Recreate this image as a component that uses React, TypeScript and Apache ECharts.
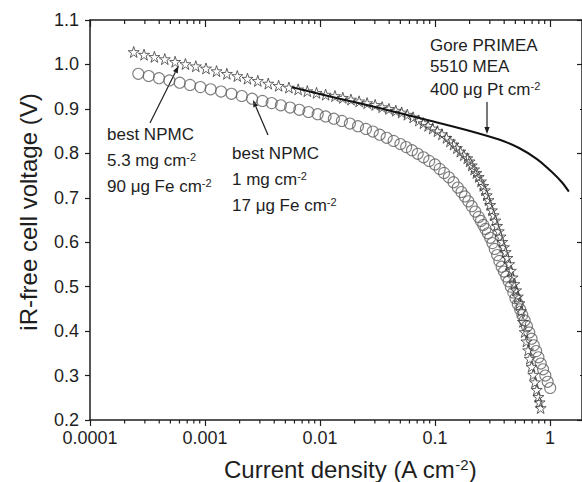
import React, { useEffect, useRef } from "react";
import * as echarts from "echarts";

// ---- data ----
const xTickLabels = ["0.0001", "0.001", "0.01", "0.1", "1"];
const xMinorTicks = [
  0.0002, 0.0003, 0.0004, 0.0005, 0.0006, 0.0007, 0.0008, 0.0009,
  0.002, 0.003, 0.004, 0.005, 0.006, 0.007, 0.008, 0.009,
  0.02, 0.03, 0.04, 0.05, 0.06, 0.07, 0.08, 0.09,
  0.2, 0.3, 0.4, 0.5, 0.6, 0.7, 0.8, 0.9,
];

// best NPMC, 5.3 mg cm-2 (stars)
const starsJ = [
  2.4e-4, 2.95e-4, 3.63e-4, 4.47e-4, 5.5e-4, 6.76e-4, 8.32e-4, 1.02e-3, 1.26e-3, 1.55e-3,
  1.91e-3, 2.34e-3, 2.88e-3, 3.55e-3, 4.37e-3, 5.37e-3, 6.46e-3, 7.76e-3, 9.33e-3, 0.0112,
  0.0135, 0.0158, 0.0186, 0.0219, 0.0257, 0.0302, 0.0347, 0.0398, 0.0457, 0.0513,
  0.0575, 0.0646, 0.0724, 0.0794, 0.0871, 0.0955, 0.105, 0.115, 0.126, 0.135,
  0.145, 0.155, 0.166, 0.178, 0.191, 0.2, 0.209, 0.219, 0.229, 0.24,
  0.251, 0.263, 0.272, 0.282, 0.292, 0.302, 0.313, 0.324, 0.335, 0.347,
  0.359, 0.372, 0.385, 0.398, 0.412, 0.427, 0.442, 0.457, 0.473, 0.49,
  0.507, 0.525, 0.543, 0.562, 0.582, 0.603, 0.624, 0.646, 0.668, 0.692,
  0.716, 0.741, 0.767, 0.794, 0.813, 0.83,
];
const starsV = [
  1.028, 1.022, 1.017, 1.012, 1.006, 1.001, 0.996, 0.991, 0.985, 0.979,
  0.974, 0.968, 0.963, 0.957, 0.952, 0.948, 0.944, 0.94, 0.936, 0.932,
  0.929, 0.925, 0.921, 0.917, 0.913, 0.909, 0.904, 0.9, 0.896, 0.892,
  0.887, 0.881, 0.874, 0.868, 0.862, 0.856, 0.85, 0.843, 0.835, 0.827,
  0.82, 0.812, 0.804, 0.796, 0.789, 0.782, 0.773, 0.764, 0.756, 0.747,
  0.737, 0.727, 0.717, 0.706, 0.695, 0.684, 0.672, 0.661, 0.649, 0.637,
  0.625, 0.613, 0.601, 0.589, 0.578, 0.565, 0.551, 0.536, 0.521, 0.506,
  0.492, 0.478, 0.463, 0.445, 0.421, 0.398, 0.377, 0.357, 0.338, 0.32,
  0.302, 0.285, 0.268, 0.252, 0.24, 0.227,
];

// best NPMC, 1 mg cm-2 (circles)
const circlesJ = [
  2.63e-4, 3.24e-4, 3.98e-4, 4.9e-4, 6.03e-4, 7.41e-4, 9.12e-4, 1.12e-3, 1.38e-3, 1.7e-3,
  2.09e-3, 2.57e-3, 3.16e-3, 3.8e-3, 4.57e-3, 5.5e-3, 6.61e-3, 7.94e-3, 9.55e-3, 0.0112,
  0.0132, 0.0155, 0.0182, 0.0214, 0.0251, 0.0288, 0.0331, 0.038, 0.0437, 0.0501,
  0.0562, 0.0631, 0.0708, 0.0794, 0.0891, 0.1, 0.11, 0.12, 0.132, 0.145,
  0.158, 0.17, 0.182, 0.195, 0.209, 0.224, 0.24, 0.251, 0.263, 0.275,
  0.288, 0.302, 0.316, 0.331, 0.347, 0.363, 0.38, 0.398, 0.417, 0.437,
  0.457, 0.479, 0.501, 0.525, 0.55, 0.575, 0.603, 0.631, 0.661, 0.692,
  0.724, 0.759, 0.794, 0.832, 0.871, 0.912, 0.955, 1.005,
];
const circlesV = [
  0.979, 0.974, 0.969, 0.964, 0.959, 0.954, 0.949, 0.944, 0.939, 0.934,
  0.929, 0.923, 0.918, 0.913, 0.908, 0.903, 0.898, 0.893, 0.888, 0.883,
  0.878, 0.873, 0.867, 0.861, 0.855, 0.849, 0.842, 0.835, 0.828, 0.821,
  0.814, 0.807, 0.799, 0.791, 0.783, 0.775, 0.765, 0.756, 0.746, 0.735,
  0.723, 0.713, 0.703, 0.692, 0.681, 0.669, 0.657, 0.648, 0.639, 0.63,
  0.62, 0.61, 0.598, 0.585, 0.571, 0.558, 0.545, 0.534, 0.523, 0.512,
  0.5, 0.487, 0.474, 0.461, 0.449, 0.436, 0.424, 0.411, 0.397, 0.383,
  0.368, 0.355, 0.341, 0.327, 0.314, 0.3, 0.286, 0.272,
];

// Gore PRIMEA 5510 MEA (solid line)
const goreJ = [0.00566, 0.0148, 0.0328, 0.0891, 0.198, 0.361, 0.539, 0.771, 1.04, 1.27, 1.46];
const goreV = [0.949, 0.923, 0.902, 0.874, 0.851, 0.831, 0.812, 0.787, 0.758, 0.735, 0.714];

const FONT = "'Liberation Sans', Arial, Helvetica, sans-serif";
const INK = "#1e1e1e";
const STAR =
  "path://M50,2 L61.8,37.6 L99,37.6 L69,59.8 L80.4,95.4 L50,73.4 L19.6,95.4 L31,59.8 L1,37.6 L38.2,37.6 Z";

function arrow(x1: number, y1: number, x2: number, y2: number) {
  const dx = x2 - x1;
  const dy = y2 - y1;
  const len = Math.hypot(dx, dy);
  const ux = dx / len;
  const uy = dy / len;
  const hl = 7;
  const hw = 2.6;
  const bx = x2 - ux * hl;
  const by = y2 - uy * hl;
  return [
    {
      type: "line",
      shape: { x1, y1, x2: bx, y2: by },
      style: { stroke: INK, lineWidth: 1.2 },
    },
    {
      type: "polygon",
      shape: {
        points: [
          [x2, y2],
          [bx - uy * hw, by + ux * hw],
          [bx + uy * hw, by - ux * hw],
        ],
      },
      style: { fill: INK },
    },
  ];
}

function label(x: number, y: number, text: string) {
  return {
    type: "text",
    x,
    y,
    style: {
      text,
      fill: INK,
      fontFamily: FONT,
      fontSize: 17,
      verticalAlign: "middle",
      align: "left",
      rich: {
        n: { fontFamily: FONT, fontSize: 17, fill: INK },
        s: { fontFamily: FONT, fontSize: 11, fill: INK, verticalAlign: "top" },
      },
    },
  };
}

export default function App() {
  const ref = useRef<HTMLDivElement>(null);
  useEffect(() => {
    if (!ref.current) return;
    const chart = echarts.init(ref.current, null, { renderer: "svg" });
    const yMin = 0.2;
    const yMax = 1.1;
    const axisLine = { show: true, lineStyle: { color: INK, width: 1.5 } };
    const option: any = {
      animation: false,
      backgroundColor: "#ffffff",
      grid: { left: 90, right: -1, top: 20, bottom: 62 },
      xAxis: [
        {
          type: "log",
          logBase: 10,
          min: 0.0001,
          max: 1.9,
          position: "bottom",
          axisLine,
          axisTick: { show: true, inside: false, length: 6, lineStyle: { color: INK, width: 1.2 } },
          splitLine: { show: false },
          axisLabel: {
            show: true,
            showMaxLabel: false,
            margin: 9,
            color: INK,
            fontFamily: FONT,
            fontSize: 18,
            formatter: (v: number) => {
              const e = Math.log10(v);
              const r = Math.round(e);
              if (Math.abs(e - r) > 1e-6) return "";
              return xTickLabels[r + 4] ?? "";
            },
          },
        },
        {
          type: "log",
          logBase: 10,
          min: 0.0001,
          max: 1.9,
          position: "top",
          axisLine,
          axisTick: { show: true, inside: true, length: 7, lineStyle: { color: INK, width: 1.2 } },
          axisLabel: { show: false },
          splitLine: { show: false },
        },
      ],
      yAxis: [
        {
          type: "value",
          min: yMin,
          max: yMax,
          interval: 0.1,
          position: "left",
          axisLine,
          axisTick: { show: true, inside: false, length: 5, lineStyle: { color: INK, width: 1.2 } },
          splitLine: { show: false },
          axisLabel: {
            margin: 11,
            color: INK,
            fontFamily: FONT,
            fontSize: 18,
            formatter: (v: number) => v.toFixed(1),
          },
        },
        {
          type: "value",
          min: yMin,
          max: yMax,
          interval: 0.2,
          position: "right",
          axisLine,
          axisTick: { show: true, inside: true, length: 5, lineStyle: { color: INK, width: 1.2 } },
          minorTick: { show: true, splitNumber: 2, length: 2, lineStyle: { color: INK, width: 1.2 } },
          axisLabel: { show: false },
          splitLine: { show: false },
          minorSplitLine: { show: false },
        },
      ],
      series: [
        {
          type: "custom",
          name: "minor ticks",
          xAxisIndex: 0,
          yAxisIndex: 0,
          silent: true,
          clip: false,
          data: xMinorTicks.map((v) => [v, yMin]),
          encode: { x: 0, y: 1 },
          renderItem: (_p: any, api: any) => {
            const v = api.value(0);
            const b = api.coord([v, yMin]);
            const t = api.coord([v, yMax]);
            return {
              type: "group",
              children: [
                {
                  type: "line",
                  shape: { x1: b[0], y1: b[1], x2: b[0], y2: b[1] + 3.5 },
                  style: { stroke: INK, lineWidth: 1.2 },
                },
                {
                  type: "line",
                  shape: { x1: t[0], y1: t[1], x2: t[0], y2: t[1] + 4 },
                  style: { stroke: INK, lineWidth: 1.2 },
                },
              ],
            };
          },
        },
        {
          type: "scatter",
          name: "best NPMC 1 mg",
          symbol: "circle",
          symbolSize: 11,
          data: circlesJ.map((j, i) => [j, circlesV[i]]),
          itemStyle: { color: "rgba(255,255,255,0)", borderColor: "#606060", borderWidth: 1.1 },
        },
        {
          type: "scatter",
          name: "best NPMC 5.3 mg",
          symbol: STAR,
          symbolSize: 11,
          data: starsJ.map((j, i) => [j, starsV[i]]),
          itemStyle: { color: "rgba(255,255,255,0)", borderColor: "#3c3c3c", borderWidth: 1 },
        },
        {
          type: "line",
          name: "Gore PRIMEA",
          smooth: 0.3,
          symbol: "none",
          data: goreJ.map((j, i) => [j, goreV[i]]),
          lineStyle: { color: "#111", width: 2 },
        },
      ],
      graphic: [
        {
          type: "text",
          x: 28,
          y: 212,
          rotation: Math.PI / 2,
          style: {
            text: "iR-free cell voltage (V)",
            fill: INK,
            fontFamily: FONT,
            fontSize: 24,
            align: "center",
            verticalAlign: "middle",
          },
        },
        {
          type: "text",
          x: 350,
          y: 469,
          style: {
            text: "{n|Current density (A cm}{s|-2}{n|)}",
            fill: INK,
            fontFamily: FONT,
            fontSize: 24,
            align: "center",
            verticalAlign: "middle",
            rich: {
              n: { fontFamily: FONT, fontSize: 24, fill: INK },
              s: { fontFamily: FONT, fontSize: 15, fill: INK, verticalAlign: "top" },
            },
          },
        },
        label(107, 134, "{n|best NPMC}"),
        label(107, 160, "{n|5.3 mg cm}{s|-2}"),
        label(107, 186, "{n|90 μg Fe cm}{s|-2}"),
        label(232, 153, "{n|best NPMC}"),
        label(232, 179, "{n|1 mg cm}{s|-2}"),
        label(232, 205, "{n|17 μg Fe cm}{s|-2}"),
        label(430, 45, "{n|Gore PRIMEA}"),
        label(430, 66.5, "{n|5510 MEA}"),
        label(430, 89, "{n|400 μg Pt cm}{s|-2}"),
        ...arrow(150, 123, 178.5, 66),
        ...arrow(268, 135, 253, 100),
        ...arrow(487, 102, 487, 134),
      ],
    };
    chart.setOption(option);
    return () => chart.dispose();
  }, []);
  return (
    <div
      ref={ref}
      style={{ position: "absolute", left: 0, top: 0, width: 582, height: 482, background: "#fff" }}
    />
  );
}
